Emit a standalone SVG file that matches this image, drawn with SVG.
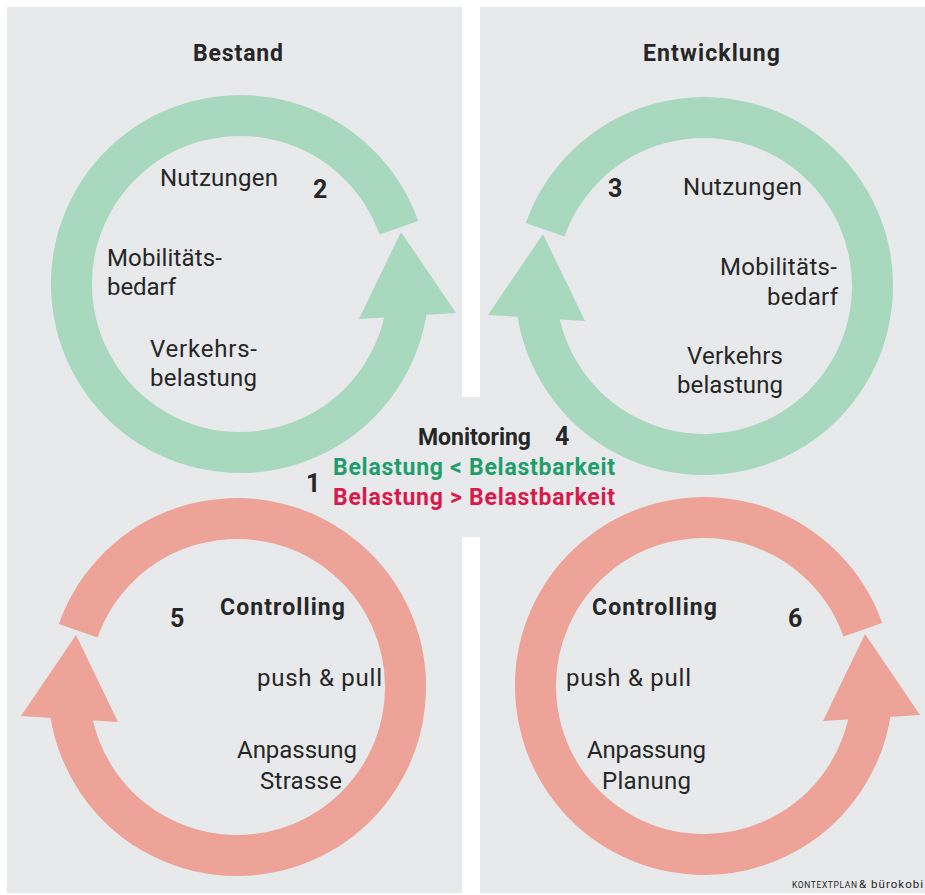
<svg xmlns="http://www.w3.org/2000/svg" xmlns:xlink="http://www.w3.org/1999/xlink" width="925" height="895" viewBox="0 0 925 895">
  <style>
    text { font-family: "Roboto", "Liberation Sans", sans-serif; fill: #262626; }
    .reg { font-size: 24px; font-weight: 400; }
    .bold { font-size: 23px; font-weight: 700; }
    .num { font-size: 25px; font-weight: 700; }
    .ok { fill: #1f9e6b; }
    .bad { fill: #d81b4c; }
    .green { fill: #a8d8be; stroke: #a8d8be; }
    .red { fill: #eda398; stroke: #eda398; }
  </style>
  <defs>
    <g id="cycle">
      <path d="M 166.86 23.45 A 168.5 168.5 0 1 1 158.83 -56.25" fill="none" stroke-width="41"/>
      <polygon points="161,-52 216,29 119,35" stroke="none"/>
    </g>
  </defs>

  <rect x="0" y="0" width="925" height="895" fill="#ffffff"/>
  <path id="panels" d="M7,7 H462 V397 H480 V7 H925 V893 H480 V537 H462 V893 H7 Z" fill="#e8e9eb"/>

  <g id="connectors">
    <use xlink:href="#cycle" class="green" transform="translate(240,284)"/>
    <use xlink:href="#cycle" class="green" transform="translate(704,286) scale(-1,1)"/>
    <use xlink:href="#cycle" class="red" transform="translate(237,687) scale(-1,1)"/>
    <use xlink:href="#cycle" class="red" transform="translate(704,686)"/>
  </g>

  <g id="bestand">
    <text class="bold" x="193" y="61" textLength="90" lengthAdjust="spacing">Bestand</text>
    <text class="reg" x="160" y="186" textLength="118" lengthAdjust="spacing">Nutzungen</text>
    <text class="num" x="313" y="198">2</text>
    <text class="reg" x="107" y="266" textLength="115" lengthAdjust="spacing">Mobilitäts-</text>
    <text class="reg" x="107" y="295" textLength="69" lengthAdjust="spacing">bedarf</text>
    <text class="reg" x="150" y="357" textLength="107" lengthAdjust="spacing">Verkehrs-</text>
    <text class="reg" x="150" y="386" textLength="107" lengthAdjust="spacing">belastung</text>
  </g>

  <g id="entwicklung">
    <text class="bold" x="643" y="61" textLength="137" lengthAdjust="spacing">Entwicklung</text>
    <text class="num" x="608" y="197">3</text>
    <text class="reg" x="683" y="195" textLength="119" lengthAdjust="spacing">Nutzungen</text>
    <text class="reg" x="720" y="275" textLength="117" lengthAdjust="spacing">Mobilitäts-</text>
    <text class="reg" x="767" y="305" textLength="71" lengthAdjust="spacing">bedarf</text>
    <text class="reg" x="687" y="364" textLength="96" lengthAdjust="spacing">Verkehrs</text>
    <text class="reg" x="677" y="393" textLength="106" lengthAdjust="spacing">belastung</text>
  </g>

  <g id="monitoring">
    <text class="bold" x="418" y="445" textLength="113" lengthAdjust="spacing">Monitoring</text>
    <text class="num" x="555" y="445">4</text>
    <text class="bold ok" x="333" y="475" textLength="282" lengthAdjust="spacing">Belastung &lt; Belastbarkeit</text>
    <text class="num" x="306" y="492">1</text>
    <text class="bold bad" x="333" y="505" textLength="282" lengthAdjust="spacing">Belastung &gt; Belastbarkeit</text>
  </g>

  <g id="controlling-strasse">
    <text class="num" x="170" y="627">5</text>
    <text class="bold" x="220" y="615" textLength="125" lengthAdjust="spacing">Controlling</text>
    <text class="reg" x="257" y="686" textLength="125" lengthAdjust="spacing">push &amp; pull</text>
    <text class="reg" x="237" y="758" textLength="120" lengthAdjust="spacing">Anpassung</text>
    <text class="reg" x="260" y="789" textLength="82" lengthAdjust="spacing">Strasse</text>
  </g>

  <g id="controlling-planung">
    <text class="bold" x="592" y="615" textLength="125" lengthAdjust="spacing">Controlling</text>
    <text class="num" x="788" y="627">6</text>
    <text class="reg" x="566" y="686" textLength="125" lengthAdjust="spacing">push &amp; pull</text>
    <text class="reg" x="587" y="758" textLength="119" lengthAdjust="spacing">Anpassung</text>
    <text class="reg" x="602" y="789" textLength="89" lengthAdjust="spacing">Planung</text>
  </g>

  <g id="credit">
    <text x="792" y="888" font-size="8.5" textLength="65" lengthAdjust="spacing" fill="#333">KONTEXTPLAN</text>
    <text x="859" y="888" font-size="11.5" textLength="64" lengthAdjust="spacing" fill="#333">&amp; bürokobi</text>
  </g>
</svg>
